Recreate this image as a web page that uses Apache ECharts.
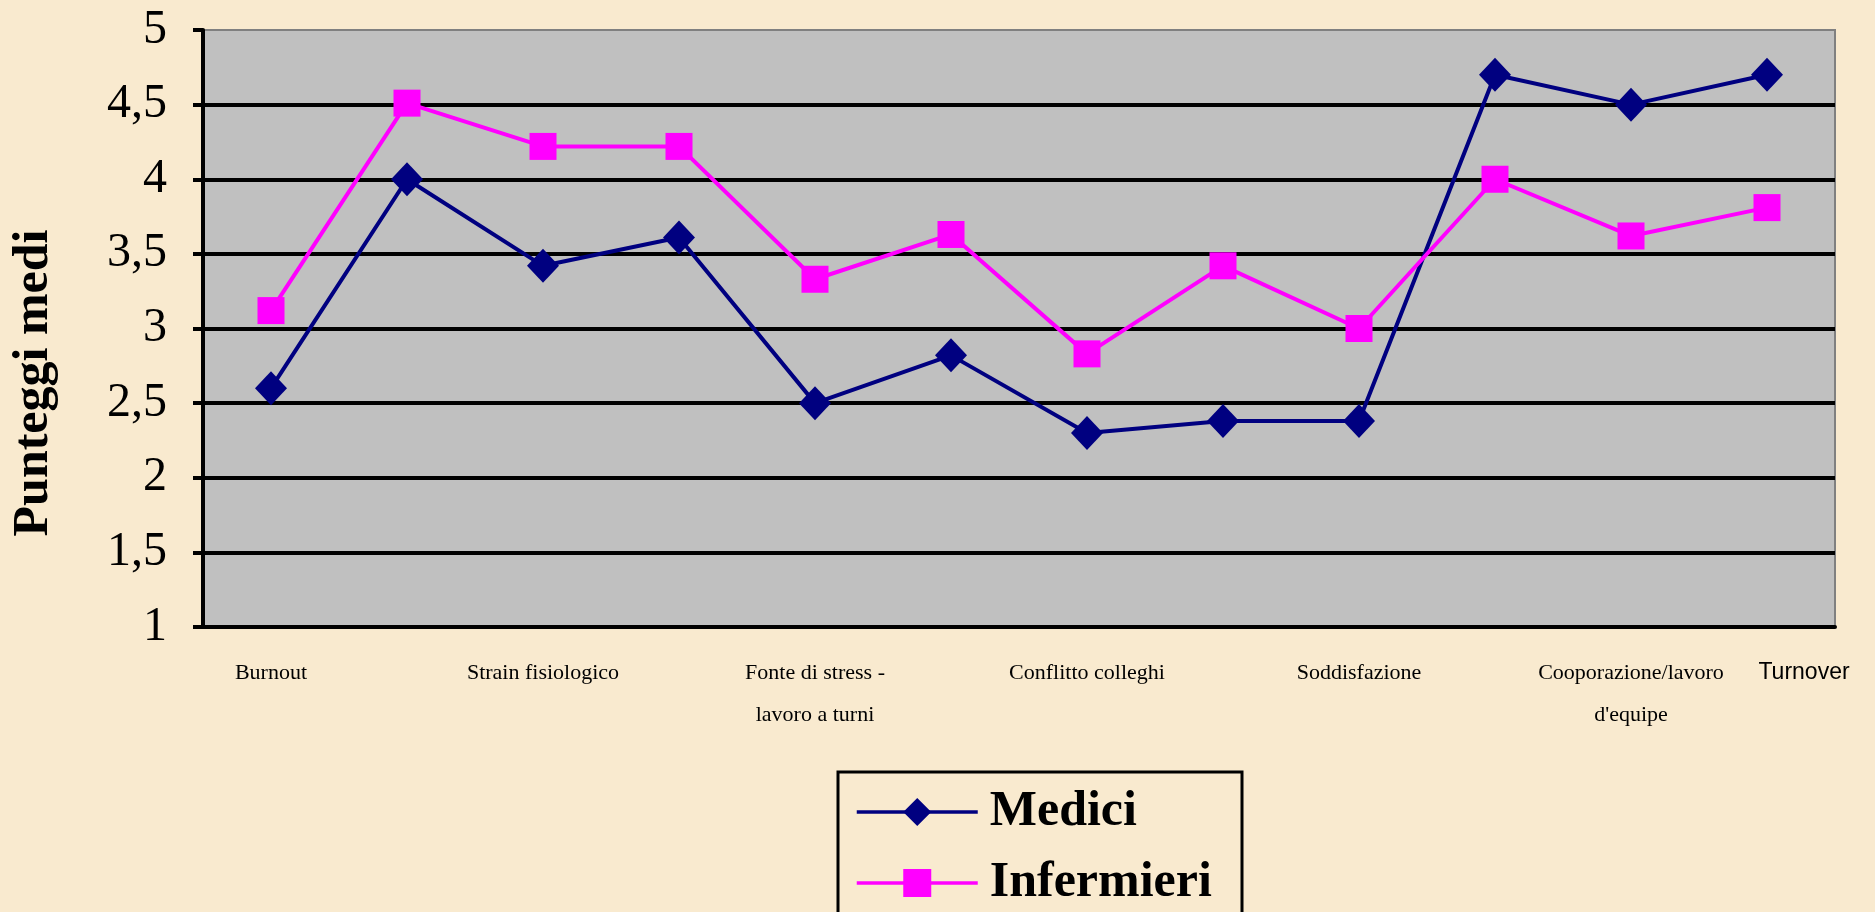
<!DOCTYPE html>
<html>
<head>
<meta charset="utf-8">
<title>Punteggi medi</title>
<script src="https://cdn.jsdelivr.net/npm/echarts@6/dist/echarts.min.js"></script>
<style>
html, body { margin: 0; padding: 0; background: #f9eacf; }
#myChart { width: 1875px; height: 912px; }
</style>
</head>
<body>
<div id="myChart"></div>
<script>
// categorie: quelle vuote non hanno etichetta visibile nel grafico originale
var categories = ['Burnout', '', 'Strain fisiologico', '', 'Fonte di stress -\nlavoro a turni', '', 'Conflitto colleghi', '', 'Soddisfazione', '', 'Cooporazione/lavoro\nd\'equipe', 'Turnover']
var seriesNames = ['Medici', 'Infermieri']
var medici = [2.6, 4.0, 3.42, 3.61, 2.5, 2.82, 2.3, 2.38, 2.38, 4.7, 4.5, 4.7]
var infermieri = [3.12, 4.51, 4.22, 4.22, 3.33, 3.63, 2.83, 3.42, 3.0, 4.0, 3.62, 3.81]
var yMin = 1
var yMax = 5
var yStep = 0.5
var yAxisTitle = 'Punteggi medi'

var serif = 'Liberation Serif, Times New Roman, serif'

var myChart = echarts.init(document.getElementById('myChart'))
myChart.setOption({
  backgroundColor: '#f9eacf',
  animation: false,
  grid: {
    left: 203,
    right: 40,
    top: 30,
    bottom: 285,
    show: true,
    backgroundColor: '#c0c0c0',
    borderColor: '#808080',
    borderWidth: 2,
    outerBoundsMode: 'none'
  },
  legend: {
    data: seriesNames,
    orient: 'vertical',
    left: 855,
    top: 787,
    padding: 0,
    itemWidth: 121,
    itemHeight: 35,
    itemGap: 21,
    selectedMode: false,
    lineStyle: { width: 3.5 },
    textStyle: {
      fontFamily: serif,
      fontWeight: 'bold',
      fontSize: 50,
      lineHeight: 50,
      color: '#000',
      padding: [0, 0, 0, 7]
    }
  },
  graphic: [
    {
      // titolo asse y
      type: 'text',
      x: 34,
      y: 383,
      rotation: Math.PI / 2,
      style: {
        text: yAxisTitle,
        fontFamily: serif,
        fontWeight: 'bold',
        fontSize: 50,
        fill: '#000',
        textAlign: 'center',
        textVerticalAlign: 'middle'
      }
    },
    {
      // cornice della legenda (prosegue oltre il bordo inferiore)
      type: 'rect',
      shape: { x: 838, y: 772, width: 404, height: 220 },
      style: { fill: 'none', stroke: '#000', lineWidth: 3 },
      z: 0
    }
  ],
  xAxis: {
    type: 'category',
    data: categories,
    boundaryGap: true,
    axisLine: { lineStyle: { color: '#000', width: 4 } },
    axisTick: { interval: 0, length: 9, lineStyle: { color: '#000', width: 3 } },
    axisLabel: {
      interval: 0,
      margin: 25,
      color: '#000',
      fontFamily: serif,
      fontSize: 22,
      lineHeight: 42,
      formatter: function (value, index) {
        if (index === categories.length - 1) return '{t|' + value + '}'
        return value
      },
      rich: {
        t: {
          fontFamily: 'Liberation Sans, Arial, sans-serif',
          fontSize: 23,
          color: '#000',
          lineHeight: 42,
          padding: [0, 0, 0, 74]
        }
      }
    }
  },
  yAxis: {
    type: 'value',
    min: yMin,
    max: yMax,
    interval: yStep,
    axisLine: { show: true, lineStyle: { color: '#000', width: 4 } },
    axisTick: { show: true, length: 10, lineStyle: { color: '#000', width: 4 } },
    axisLabel: {
      margin: 36,
      color: '#000',
      fontFamily: serif,
      fontSize: 48,
      formatter: function (v) { return String(v).replace('.', ',') }
    },
    splitLine: {
      show: true,
      showMaxLine: false,
      lineStyle: { color: '#000', width: 4 }
    }
  },
  series: [
    {
      name: seriesNames[0],
      type: 'line',
      data: medici,
      color: '#000080',
      symbol: 'diamond',
      symbolSize: [32, 34],
      lineStyle: { color: '#000080', width: 4 },
      itemStyle: { color: '#000080' }
    },
    {
      name: seriesNames[1],
      type: 'line',
      data: infermieri,
      color: '#ff00ff',
      symbol: 'rect',
      symbolSize: 27,
      lineStyle: { color: '#ff00ff', width: 4 },
      itemStyle: { color: '#ff00ff' }
    }
  ]
})
</script>
</body>
</html>
